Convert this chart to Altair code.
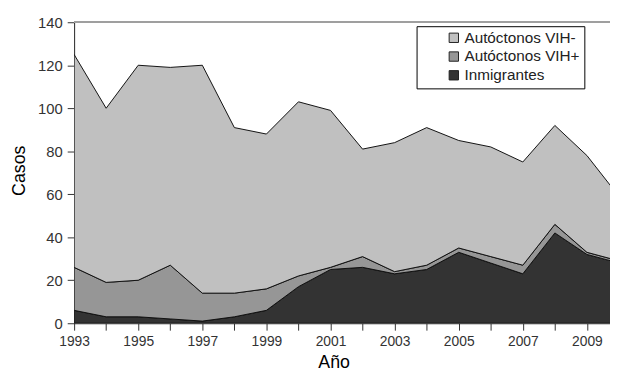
import altair as alt
import pandas as pd

years = list(range(1993, 2011))
inmigrantes = [6, 3, 3, 2, 1, 3, 6, 17, 25, 26, 23, 25, 33, 28, 23, 42, 32, 28]
vih_pos = [20, 16, 17, 25, 13, 11, 10, 5, 1, 5, 1, 2, 2, 3, 4, 4, 1, 1]
vih_neg = [99, 81, 100, 92, 106, 77, 72, 81, 73, 50, 60, 64, 50, 51, 48, 46, 45, 30]

series = ["Autóctonos VIH-", "Autóctonos VIH+", "Inmigrantes"]
colors = ["#c0c0c0", "#969696", "#333333"]
stack_order = {"Inmigrantes": 0, "Autóctonos VIH+": 1, "Autóctonos VIH-": 2}

rows = []
for i, y in enumerate(years):
    rows.append({"year": y, "serie": "Inmigrantes", "casos": inmigrantes[i]})
    rows.append({"year": y, "serie": "Autóctonos VIH+", "casos": vih_pos[i]})
    rows.append({"year": y, "serie": "Autóctonos VIH-", "casos": vih_neg[i]})
df = pd.DataFrame(rows)
df["orden"] = df["serie"].map(stack_order)

FONT = "Liberation Sans"
tick_years = list(range(1993, 2010))

xscale = alt.Scale(domain=[1993, 2009.72], nice=False, zero=False)
yscale = alt.Scale(domain=[0, 140], nice=False)

x = alt.X(
    "year:Q",
    scale=xscale,
    axis=alt.Axis(
        values=tick_years,
        format="d",
        labelExpr="datum.value % 2 == 1 ? datum.label : ''",
        title="Año",
        titleFont=FONT,
        titleFontSize=18,
        titleFontWeight="normal",
        titleColor="#000",
        titleX=263,
        titleY=40,
        titleBaseline="middle",
        labelFont=FONT,
        labelFontSize=14,
        labelColor="#333",
        labelPadding=5,
        tickSize=7,
        tickColor="#333",
        domainColor="#222",
        grid=False,
        labelFlush=False,
        labelOverlap=False,
    ),
)

y = alt.Y(
    "casos:Q",
    stack="zero",
    scale=yscale,
    axis=alt.Axis(
        values=list(range(0, 141, 20)),
        title="Casos",
        titleFont=FONT,
        titleFontSize=18,
        titleFontWeight="normal",
        titleColor="#000",
        titleX=-55,
        titleY=150,
        titleAngle=270,
        titleBaseline="middle",
        titleAlign="center",
        labelFont=FONT,
        labelFontSize=15,
        labelColor="#333",
        labelPadding=5,
        tickSize=7,
        tickColor="#333",
        domainColor="#222",
        grid=False,
    ),
)

areas = alt.Chart(df).mark_area(
    clip=True, opacity=1, stroke="#111", strokeWidth=1
).encode(
    x=x,
    y=y,
    color=alt.Color(
        "serie:N",
        scale=alt.Scale(domain=series, range=colors),
        legend=alt.Legend(
            title=None,
            orient="none",
            legendX=347,
            legendY=4,
            direction="vertical",
            strokeColor="#000",
            fillColor="#fff",
            padding=4,
            symbolOffset=26,
            symbolType="square",
            symbolSize=90,
            symbolStrokeColor="#222",
            symbolStrokeWidth=1,
            labelFont=FONT,
            labelFontSize=15.5,
            labelColor="#222",
            labelOffset=3,
            rowPadding=2,
        ),
    ),
    order=alt.Order("orden:Q"),
)

top_rule = alt.Chart(df).mark_rule(color="#a0a0a0", strokeWidth=1).encode(
    y=alt.datum(140)
)

chart = alt.layer(areas, top_rule).properties(
    width=543,
    height=305,
    autosize=alt.AutoSizeParams(type="none"),
    padding={"left": 67, "top": 12, "right": 0, "bottom": 50},
    background="#ffffff",
).configure_view(stroke=None)

chart.save("out.html", embed_options={"renderer": "svg", "actions": False})
